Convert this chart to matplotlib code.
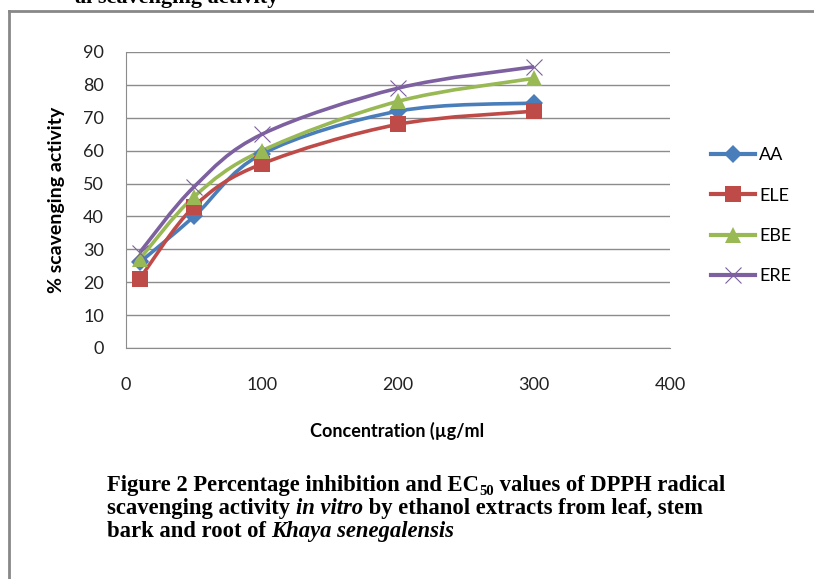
import numpy as np
import matplotlib
matplotlib.use("Agg")
import matplotlib.pyplot as plt
from matplotlib.path import Path
from matplotlib.patches import PathPatch
from matplotlib.lines import Line2D

# concentrations (ug/ml) and % scavenging activity
conc = [10, 50, 100, 200, 300]
aa = [26, 40, 59, 72, 74.5]
ele = [21, 43, 56, 68, 72]
ebe = [27, 46, 60, 75, 82]
ere = [29, 49, 65, 79, 85.5]

series = [
    ("AA", aa, "#4A7EBB", "D", 9),
    ("ELE", ele, "#BE4B48", "s", 12),
    ("EBE", ebe, "#98B954", "^", 12),
    ("ERE", ere, "#7D60A0", "x", 12),
]

W, H = 814, 579
SANS = ["Lato", "DejaVu Sans"]
SERIF = ["Liberation Serif", "DejaVu Serif"]


def smooth_path(x, y):
    # excel style smoothed line: cubic bezier through the points
    pts = np.column_stack([x, y]).astype(float)
    verts = [pts[0]]
    codes = [Path.MOVETO]
    n = len(pts)
    for i in range(n - 1):
        p0 = pts[i - 1] if i > 0 else pts[i]
        p1, p2 = pts[i], pts[i + 1]
        p3 = pts[i + 2] if i + 2 < n else pts[i + 1]
        c1 = p1 + (p2 - p0) / 6.0
        c2 = p2 - (p3 - p1) / 6.0
        verts += [c1, c2, p2]
        codes += [Path.CURVE4] * 3
    return Path(verts, codes)


fig = plt.figure(figsize=(W / 100, H / 100), dpi=100)
ax = fig.add_axes([126 / W, 1 - 348 / H, 544 / W, 296 / H])

for name, vals, col, mk, ms in series:
    ax.add_patch(PathPatch(smooth_path(conc, vals), facecolor="none",
                           edgecolor=col, lw=2.6, zorder=3))
    ax.plot(conc, vals, ls="none", marker=mk, ms=ms,
            mew=0.8 if mk == "x" else 0, color=col, zorder=4)

ax.set_xlim(0, 400)
ax.set_ylim(0, 90)
ax.set_xticks([0, 100, 200, 300, 400])
ax.set_yticks(range(0, 91, 10))
ax.grid(axis="y", color="#8c8c8c", lw=1.0)
ax.set_axisbelow(True)
for s in ["top", "right"]:
    ax.spines[s].set_visible(False)
for s in ["left", "bottom"]:
    ax.spines[s].set_color("#8c8c8c")
ax.tick_params(length=0, labelsize=13, colors="#222222")
ax.tick_params(axis="y", pad=16)
ax.tick_params(axis="x", pad=21)
for lab in ax.get_xticklabels() + ax.get_yticklabels():
    lab.set_family(SANS)

ax.set_ylabel("% scavenging activity", fontsize=14, fontweight="bold",
              family=SANS, labelpad=13)
fig.text(397 / W, 1 - 431 / H, "Concentration (\u00b5g/ml", fontsize=13,
         fontweight="bold", family=SANS, ha="center", va="center")

# legend drawn at the right of the plot
handles = [Line2D([], [], color=col, lw=3, marker=mk, ms=ms,
                  mew=0.8 if mk == "x" else 0)
           for name, vals, col, mk, ms in series]
fig.legend(handles, [s[0] for s in series], loc="upper left",
           bbox_to_anchor=(695 / W, 1 - 131 / H), frameon=False,
           prop={"family": SANS, "size": 13}, handlelength=2.4,
           handletextpad=0.25, labelspacing=1.35)

# document frame and the cut-off heading above it
fig.add_artist(Line2D([8.5 / W, 8.5 / W], [0, 1 - 11 / H], color="#888888",
                      lw=2, transform=fig.transFigure))
fig.add_artist(Line2D([8.5 / W, 1], [1 - 11 / H, 1 - 11 / H], color="#888888",
                      lw=2, transform=fig.transFigure))
fig.text(278 / W, 1 - 3 / H, "al scavenging activity", family=SERIF,
         fontweight="bold", fontsize=16, ha="right", va="baseline")

# caption with mixed styles
renderer = fig.canvas.get_renderer()


def rich_line(x_px, y_px, parts):
    x = x_px / W
    for txt, style, size, dy in parts:
        t = fig.text(x, 1 - (y_px + dy) / H, txt, family=SERIF, fontweight="bold",
                     style=style, fontsize=size, ha="left", va="baseline")
        bb = t.get_window_extent(renderer)
        x += bb.width / W


cap = 16.3
rich_line(107, 491, [("Figure 2 Percentage inhibition and EC", "normal", cap, 0),
                     ("50", "normal", 10.5, 4),
                     (" values of DPPH radical", "normal", cap, 0)])
rich_line(107, 514, [("scavenging activity ", "normal", cap, 0),
                     ("in vitro", "italic", cap, 0),
                     (" by ethanol extracts from leaf, stem", "normal", cap, 0)])
rich_line(107, 537, [("bark and root of ", "normal", cap, 0),
                     ("Khaya senegalensis", "italic", cap, 0)])

fig.savefig("out.png", dpi=100)
